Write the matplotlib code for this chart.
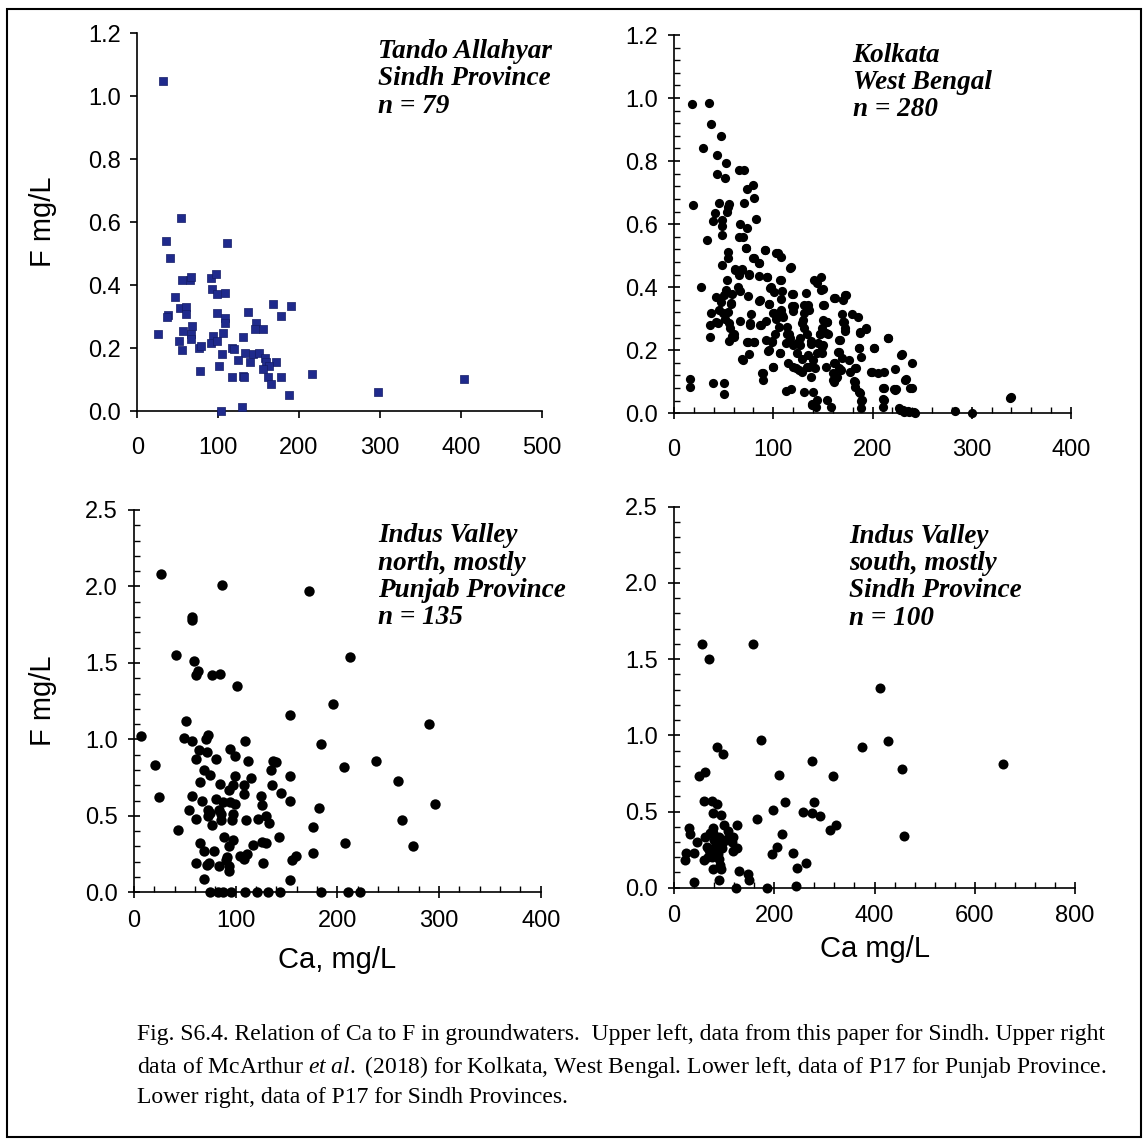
import matplotlib
matplotlib.use('Agg')
import matplotlib.pyplot as plt
from matplotlib.ticker import MultipleLocator, FormatStrFormatter
from matplotlib.patches import Rectangle

# upper left: Tando Allahyar, Sindh (this paper)
ta_ca = [32, 54, 36, 111, 41, 55, 65, 67, 91, 97, 92, 98, 108, 46, 53, 60, 60, 38, 37, 98,
         109, 108, 137, 168, 190, 178, 147, 145, 156, 68, 26, 56, 67, 67, 51, 55, 93, 91, 98, 106,
         131, 76, 79, 117, 119, 105, 133, 143, 150, 158, 124, 139, 159, 171, 163, 155, 101, 77, 117, 131,
         132, 161, 178, 165, 216, 187, 298, 404, 103, 129]
ta_f = [1.048, 0.612, 0.540, 0.535, 0.486, 0.416, 0.416, 0.426, 0.423, 0.435, 0.388, 0.371, 0.374, 0.361, 0.327, 0.331, 0.308, 0.306, 0.299, 0.312,
        0.296, 0.278, 0.313, 0.340, 0.333, 0.303, 0.281, 0.262, 0.261, 0.270, 0.246, 0.254, 0.244, 0.228, 0.223, 0.193, 0.238, 0.217, 0.222, 0.247,
        0.235, 0.200, 0.205, 0.201, 0.198, 0.182, 0.184, 0.180, 0.185, 0.169, 0.161, 0.156, 0.157, 0.157, 0.142, 0.133, 0.142, 0.127, 0.109, 0.111,
        0.107, 0.109, 0.109, 0.085, 0.116, 0.051, 0.060, 0.103, 0.0, 0.014]

# upper right: Kolkata, West Bengal (McArthur et al. 2018)
kol_ca = [18, 35, 37, 47, 29, 43, 52, 43, 51, 65, 71, 19, 74, 80, 81, 71, 45, 55, 54, 41,
          53, 39, 48, 83, 67, 48, 74, 48, 33, 65, 70, 73, 54, 54, 92, 103, 108, 81, 86, 48,
          118, 61, 69, 65, 76, 86, 94, 108, 53, 27, 64, 67, 98, 101, 109, 141, 148, 144, 150, 52,
          50, 58, 42, 75, 86, 96, 108, 120, 133, 173, 162, 170, 47, 57, 121, 134, 151, 37, 45, 49,
          100, 108, 120, 131, 136, 179, 185, 169, 36, 42, 51, 55, 67, 78, 77, 87, 93, 103, 110, 106,
          130, 131, 150, 154, 149, 170, 36, 56, 58, 60, 55, 93, 99, 102, 114, 117, 113, 120, 127, 134,
          138, 145, 147, 153, 167, 172, 187, 193, 216, 74, 81, 95, 107, 124, 124, 129, 135, 144, 149, 149,
          166, 169, 186, 188, 202, 230, 240, 69, 76, 100, 115, 120, 126, 134, 138, 142, 153, 161, 160, 166,
          168, 177, 183, 198, 206, 212, 223, 89, 90, 160, 163, 181, 182, 211, 223, 234, 240, 16, 16, 39,
          50, 50, 113, 118, 131, 140, 154, 158, 139, 143, 187, 188, 188, 211, 211, 227, 231, 236, 243, 283,
          300, 339, 340,
          73, 92, 105, 80, 86, 117, 61, 69, 76, 94, 107, 97, 119, 57, 87, 96, 119, 131, 54, 101,
          109, 44, 77, 88, 114, 129, 60, 75, 81, 99, 116, 127, 70, 96, 107, 100, 123, 129, 136, 90,
          148, 161, 172, 135, 150, 154, 171, 193, 187, 216, 147, 155, 172, 166, 138, 150, 202, 186, 229, 165,
          176, 140, 162, 182, 199, 164, 161, 182, 233, 238, 222, 212, 224, 186, 189, 212, 144, 139, 228, 232,
          237, 242]
kol_f = [0.980, 0.985, 0.917, 0.881, 0.842, 0.818, 0.794, 0.759, 0.747, 0.771, 0.771, 0.660, 0.711, 0.723, 0.684, 0.668, 0.666, 0.663, 0.653, 0.636,
         0.639, 0.610, 0.612, 0.615, 0.602, 0.595, 0.589, 0.565, 0.549, 0.558, 0.560, 0.525, 0.512, 0.494, 0.517, 0.510, 0.496, 0.494, 0.477, 0.470,
         0.463, 0.457, 0.457, 0.438, 0.441, 0.436, 0.431, 0.422, 0.424, 0.401, 0.401, 0.389, 0.401, 0.385, 0.389, 0.422, 0.433, 0.412, 0.393, 0.391,
         0.375, 0.378, 0.370, 0.373, 0.356, 0.348, 0.361, 0.378, 0.382, 0.375, 0.366, 0.359, 0.352, 0.346, 0.340, 0.341, 0.345, 0.317, 0.329, 0.317,
         0.317, 0.327, 0.325, 0.317, 0.329, 0.315, 0.304, 0.315, 0.280, 0.290, 0.298, 0.285, 0.293, 0.315, 0.285, 0.280, 0.294, 0.298, 0.306, 0.275,
         0.296, 0.269, 0.296, 0.290, 0.269, 0.290, 0.243, 0.269, 0.245, 0.253, 0.230, 0.234, 0.230, 0.253, 0.253, 0.238, 0.224, 0.216, 0.238, 0.250,
         0.230, 0.224, 0.253, 0.256, 0.232, 0.269, 0.259, 0.267, 0.240, 0.227, 0.227, 0.199, 0.190, 0.224, 0.190, 0.171, 0.185, 0.190, 0.211, 0.190,
         0.195, 0.174, 0.206, 0.180, 0.206, 0.187, 0.158, 0.171, 0.188, 0.148, 0.161, 0.148, 0.137, 0.148, 0.116, 0.143, 0.148, 0.158, 0.127, 0.143,
         0.137, 0.132, 0.143, 0.132, 0.129, 0.132, 0.139, 0.127, 0.106, 0.106, 0.111, 0.103, 0.084, 0.079, 0.074, 0.108, 0.079, 0.108, 0.082, 0.095,
         0.097, 0.061, 0.072, 0.077, 0.069, 0.069, 0.042, 0.021, 0.026, 0.021, 0.063, 0.039, 0.016, 0.044, 0.019, 0.016, 0.011, 0.008, 0.002, 0.008,
         0.002, 0.048, 0.053,
         0.525, 0.519, 0.507, 0.493, 0.478, 0.462, 0.454, 0.454, 0.440, 0.431, 0.422, 0.399, 0.380, 0.351, 0.359, 0.348, 0.341, 0.343, 0.322, 0.317,
         0.311, 0.285, 0.280, 0.280, 0.274, 0.285, 0.243, 0.227, 0.227, 0.227, 0.250, 0.216, 0.169, 0.200, 0.190, 0.148, 0.143, 0.132, 0.148, 0.127,
         0.390, 0.367, 0.375, 0.343, 0.343, 0.290, 0.290, 0.271, 0.256, 0.240, 0.253, 0.253, 0.261, 0.232, 0.219, 0.216, 0.206, 0.206, 0.185, 0.195,
         0.169, 0.169, 0.158, 0.143, 0.132, 0.116, 0.100, 0.100, 0.105, 0.079, 0.077, 0.079, 0.077, 0.068, 0.042, 0.042, 0.042, 0.028, 0.010, 0.005,
         0.005, 0.005]

# lower left: Indus Valley north, mostly Punjab (P17)
pun_ca = [7, 27, 87, 172, 57, 57, 41, 212, 59, 63, 61, 77, 85, 101, 196, 153, 290, 51, 49, 57,
          73, 71, 109, 184, 64, 72, 94, 99, 61, 81, 112, 137, 140, 238, 21, 207, 135, 69, 75, 99,
          115, 153, 260, 65, 85, 97, 93, 108, 136, 108, 145, 57, 125, 25, 81, 153, 296, 67, 88, 94,
          99, 126, 54, 73, 75, 84, 182, 73, 86, 97, 130, 61, 77, 86, 96, 110, 122, 133, 264, 43,
          176, 89, 97, 93, 143, 65, 69, 79, 117, 126, 130, 208, 274, 104, 111, 108, 91, 90, 61, 72,
          74, 84, 93, 93, 127, 155, 159, 176, 69, 153, 75, 83, 88, 95, 109, 121, 132, 144, 184, 210,
          222]
pun_f = [1.02, 2.08, 2.01, 1.97, 1.80, 1.78, 1.55, 1.54, 1.51, 1.45, 1.42, 1.42, 1.43, 1.35, 1.23, 1.16, 1.10, 1.12, 1.01, 0.99,
         1.03, 1.00, 0.99, 0.97, 0.93, 0.92, 0.94, 0.89, 0.87, 0.87, 0.86, 0.86, 0.85, 0.86, 0.83, 0.82, 0.80, 0.80, 0.77, 0.76,
         0.75, 0.76, 0.73, 0.72, 0.71, 0.70, 0.67, 0.70, 0.70, 0.64, 0.65, 0.63, 0.63, 0.62, 0.61, 0.60, 0.58, 0.60, 0.59, 0.59,
         0.58, 0.57, 0.54, 0.54, 0.52, 0.54, 0.55, 0.50, 0.51, 0.51, 0.50, 0.48, 0.44, 0.47, 0.47, 0.47, 0.48, 0.45, 0.47, 0.41,
         0.43, 0.36, 0.34, 0.30, 0.36, 0.32, 0.27, 0.27, 0.31, 0.33, 0.32, 0.32, 0.30, 0.24, 0.25, 0.22, 0.23, 0.21, 0.19, 0.18,
         0.19, 0.17, 0.17, 0.14, 0.19, 0.21, 0.24, 0.26, 0.09, 0.08, 0.0, 0.0, 0.0, 0.0, 0.0, 0.0, 0.0, 0.0, 0.0, 0.0,
         0.0]

# lower right: Indus Valley south, mostly Sindh (P17)
sin_ca = [55, 158, 70, 410, 174, 427, 375, 86, 97, 656, 455, 275, 318, 210, 50, 62, 60, 75, 86, 279,
          222, 198, 257, 275, 291, 77, 94, 166, 100, 125, 323, 311, 30, 31, 77, 78, 62, 45, 90, 105,
          117, 215, 459, 80, 98, 115, 65, 82, 126, 118, 205, 23, 39, 22, 59, 75, 82, 90, 78, 94,
          195, 238, 263, 246, 130, 147, 150, 40, 90, 124, 186, 243, 70, 88, 85, 72, 95, 68, 92, 108]
sin_f = [1.60, 1.60, 1.50, 1.31, 0.97, 0.96, 0.92, 0.92, 0.88, 0.81, 0.78, 0.83, 0.73, 0.74, 0.73, 0.76, 0.57, 0.57, 0.55, 0.56,
         0.56, 0.51, 0.50, 0.49, 0.47, 0.49, 0.48, 0.45, 0.41, 0.41, 0.41, 0.38, 0.39, 0.35, 0.39, 0.36, 0.33, 0.30, 0.33, 0.32,
         0.33, 0.35, 0.34, 0.31, 0.30, 0.30, 0.27, 0.27, 0.26, 0.24, 0.27, 0.23, 0.23, 0.18, 0.18, 0.20, 0.23, 0.19, 0.12, 0.12,
         0.22, 0.23, 0.16, 0.13, 0.11, 0.09, 0.05, 0.04, 0.05, 0.0, 0.0, 0.01, 0.25, 0.22, 0.28, 0.36, 0.26, 0.20, 0.15, 0.37]

labels = ['Tando Allahyar\nSindh Province\nn = 79',
          'Kolkata\nWest Bengal\nn = 280',
          'Indus Valley\nnorth, mostly\nPunjab Province\nn = 135',
          'Indus Valley\nsouth, mostly\nSindh Province\nn = 100']

W, H = 1143, 1139
plt.rcParams['font.family'] = 'Liberation Sans'
plt.rcParams['mathtext.fontset'] = 'custom'
plt.rcParams['mathtext.rm'] = 'Liberation Serif'
plt.rcParams['mathtext.it'] = 'Liberation Serif:italic'
fig = plt.figure(figsize=(W / 100, H / 100), dpi=100)


def make_axes(l, r, t, b):
    # pixel box -> figure fraction
    return fig.add_axes([l / W, (H - b) / H, (r - l) / W, (b - t) / H])


def style(ax, xmax, xmaj, xmin, ymax, ymaj, ymin, minor=True, xpad=8):
    ax.set_xlim(0, xmax)
    ax.set_ylim(0, ymax)
    for s in ['top', 'right']:
        ax.spines[s].set_visible(False)
    for s in ['left', 'bottom']:
        ax.spines[s].set_linewidth(1.2)
    ax.xaxis.set_major_locator(MultipleLocator(xmaj))
    ax.yaxis.set_major_locator(MultipleLocator(ymaj))
    ax.tick_params(labelsize=17, width=1.2, pad=7)
    ax.tick_params(axis='x', pad=xpad)
    if minor:
        ax.xaxis.set_minor_locator(MultipleLocator(xmin))
        ax.yaxis.set_minor_locator(MultipleLocator(ymin))
        ax.tick_params(which='major', direction='inout', length=9)
        ax.tick_params(which='minor', direction='in', length=4, width=1.0)
    else:
        ax.tick_params(which='major', direction='out', length=5)
    ax.yaxis.set_major_formatter(FormatStrFormatter('%.1f'))


ann = dict(family='Liberation Serif', style='italic', weight='bold', fontsize=19.5,
           va='top', ha='left', linespacing=1.12)

# upper left
ax1 = make_axes(137.3, 541.7, 33.3, 411)
ax1.scatter(ta_ca, ta_f, marker='s', s=38, c='#1f2a8c', edgecolors='#141c66', linewidths=0.5, clip_on=False, zorder=3)
style(ax1, 500, 100, None, 1.2, 0.2, None, minor=False, xpad=14)
ax1.set_ylabel('F mg/L', fontsize=21, labelpad=22)
ax1.text(0.595, 0.985, labels[0], transform=ax1.transAxes, **ann)

# upper right
ax2 = make_axes(674, 1071, 35, 413.3)
ax2.scatter(kol_ca, kol_f, s=44, c='black', linewidths=0, clip_on=False, zorder=3)
style(ax2, 400, 100, 20, 1.2, 0.2, 0.04, xpad=14)
ax2.text(0.45, 0.98, labels[1], transform=ax2.transAxes, **ann)

# lower left
ax3 = make_axes(134, 540.7, 510, 892.3)
ax3.scatter(pun_ca, pun_f, s=56, c='black', linewidths=0, clip_on=False, zorder=3)
style(ax3, 400, 100, 20, 2.5, 0.5, 0.1)
ax3.set_ylabel('F mg/L', fontsize=21, labelpad=20)
ax3.set_xlabel('Ca, mg/L', fontsize=21, labelpad=10)
ax3.text(0.60, 0.965, labels[2], transform=ax3.transAxes, **ann)

# lower right
ax4 = make_axes(674, 1075, 506.7, 887.7)
ax4.scatter(sin_ca, sin_f, s=52, c='black', linewidths=0, clip_on=False, zorder=3)
style(ax4, 800, 200, 40, 2.5, 0.5, 0.1)
ax4.set_xlabel('Ca mg/L', fontsize=21, labelpad=6)
ax4.text(0.437, 0.955, labels[3], transform=ax4.transAxes, **ann)

caption = ('Fig. S6.4. Relation of Ca to F in groundwaters.  Upper left, data from this paper for Sindh. Upper right\n'
           'data of McArthur $\\mathit{et\\ al.}$ (2018) for Kolkata, West Bengal. Lower left, data of P17 for Punjab Province.\n'
           'Lower right, data of P17 for Sindh Provinces.')
fig.text(137 / W, 1 - 1024 / H, caption, family='Liberation Serif', fontsize=17,
         va='top', ha='left', linespacing=1.45)

fig.add_artist(Rectangle((7 / W, 1 - 1137 / H), (1141 - 7) / W, (1137 - 9) / H,
                         transform=fig.transFigure, fill=False, edgecolor='black', linewidth=1.5))

fig.savefig('out.png', dpi=100)
